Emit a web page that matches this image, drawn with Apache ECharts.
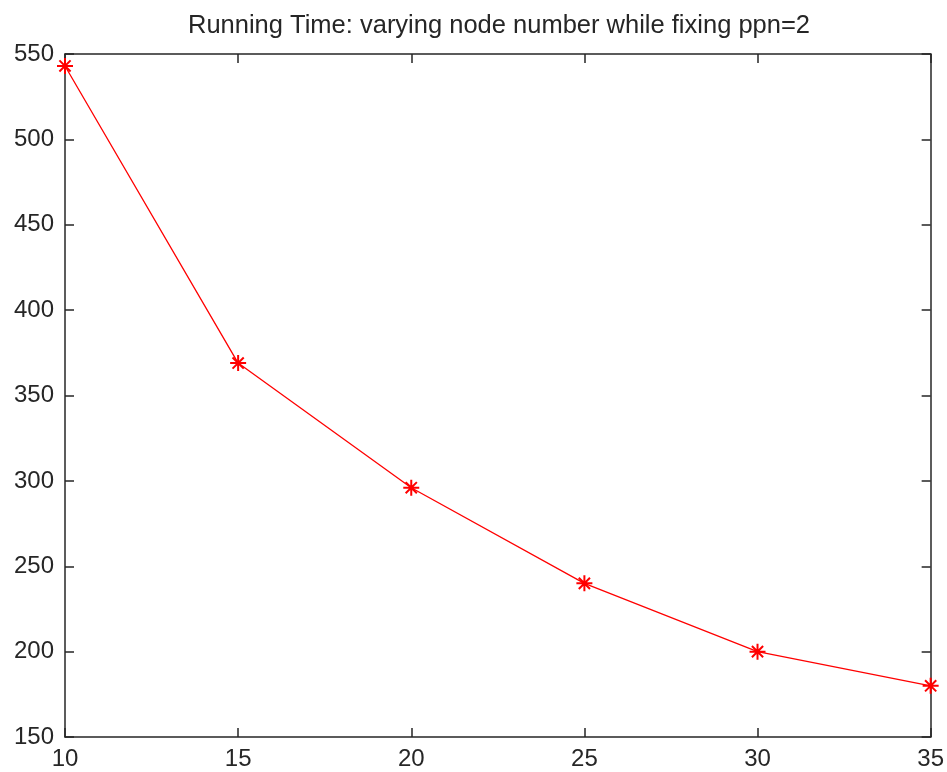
<!DOCTYPE html>
<html>
<head>
<meta charset="utf-8">
<script src="https://cdn.jsdelivr.net/npm/echarts@6/dist/echarts.min.js"></script>
<style>
    html, body { margin: 0; padding: 0; background: #fff; }
    #chart { width: 947px; height: 772px; }
</style>
</head>
<body>
<div id="chart"></div>
<script>
    // node numbers (x) and running time (y)
    var nodes = [10, 15, 20, 25, 30, 35];
    var runningTime = [543, 369, 296, 240, 200, 180];
    var xTicks = [10, 15, 20, 25, 30, 35];
    var yTicks = [150, 200, 250, 300, 350, 400, 450, 500, 550];

    var axisColor = '#262626';
    var font = '"Liberation Sans", Arial, sans-serif';
    // asterisk marker like matlab '*'
    var asterisk = 'path://M0,-10L0,10M-10,0L10,0M-7,-7L7,7M-7,7L7,-7';

    var chart = echarts.init(document.getElementById('chart'));

    function boxAxis(pos, isX, showLabel) {
        return {
            type: 'value',
            position: pos,
            min: isX ? xTicks[0] : yTicks[0],
            max: isX ? xTicks[xTicks.length - 1] : yTicks[yTicks.length - 1],
            interval: isX ? 5 : 50,
            axisLine: { show: true, onZero: false, lineStyle: { color: axisColor, width: 1.5 } },
            axisTick: { show: true, inside: true, length: 9, lineStyle: { color: axisColor, width: 1.5 } },
            axisLabel: {
                show: showLabel,
                color: axisColor,
                fontFamily: font,
                fontSize: 24,
                margin: isX ? 10 : 11
            },
            splitLine: { show: false }
        };
    }

    var option = {
        backgroundColor: '#fff',
        animation: false,
        title: {
            text: 'Running Time: varying node number while fixing ppn=2',
            left: 494,
            textAlign: 'center',
            top: 8,
            textStyle: { color: axisColor, fontFamily: font, fontSize: 25.5, fontWeight: 'normal' }
        },
        grid: { left: 65, right: 15, top: 54, bottom: 35 },
        xAxis: [boxAxis('bottom', true, true), boxAxis('top', true, false)],
        yAxis: [boxAxis('left', false, true), boxAxis('right', false, false)],
        series: [
            {
                type: 'line',
                data: nodes.map(function (n, i) { return [n, runningTime[i]]; }),
                symbol: asterisk,
                symbolSize: 16,
                lineStyle: { color: '#ff0000', width: 1.3 },
                itemStyle: { color: 'none', borderColor: '#ff0000', borderWidth: 2 },
                clip: false
            }
        ]
    };

    chart.setOption(option);
</script>
</body>
</html>
